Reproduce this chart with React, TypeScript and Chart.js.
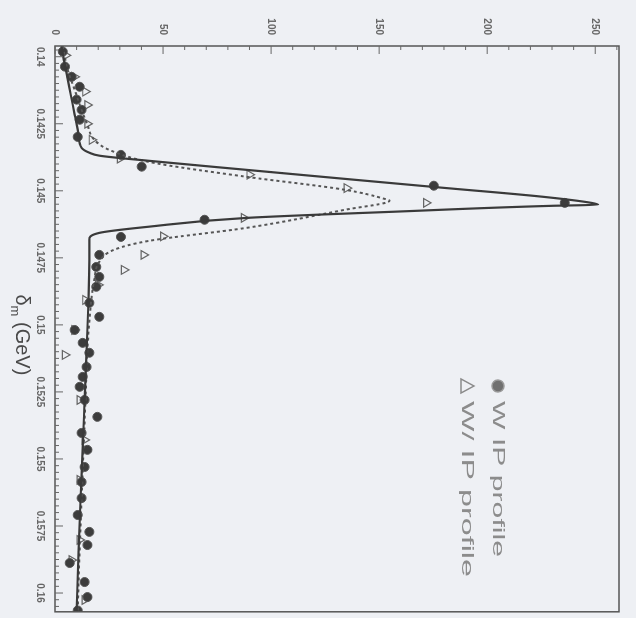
import React, { useEffect, useRef } from "react";
import { Chart, registerables } from "chart.js";

Chart.register(...registerables);

// ---- axis ticks ----
const deltaTicks = [0.14, 0.1425, 0.145, 0.1475, 0.15, 0.1525, 0.155, 0.1575, 0.16];
const deltaTickLabels = ["0.14", "0.1425", "0.145", "0.1475", "0.15", "0.1525", "0.155", "0.1575", "0.16"];
const countTicks = [0, 50, 100, 150, 200, 250];

// ---- data: without IP profile (filled circles) ----
const noIpDelta = [
  0.13981, 0.14037, 0.14075, 0.14112, 0.1416, 0.14198, 0.14235, 0.14299, 0.14366, 0.1441,
  0.14481, 0.14545, 0.14608, 0.14672, 0.14739, 0.14784, 0.14821, 0.14858, 0.14918, 0.1497,
  0.15019, 0.15067, 0.15104, 0.15157, 0.15194, 0.15231, 0.1528, 0.15343, 0.15403, 0.15466,
  0.1553, 0.15586, 0.15646, 0.15709, 0.15772, 0.15821, 0.15888, 0.15959, 0.16015, 0.16065,
];
const noIpCounts = [
  3.6, 4.6, 7.7, 11.4, 10.0, 12.3, 11.4, 10.5, 30.5, 40.1,
  175.3, 235.9, 69.2, 30.5, 20.5, 19.1, 20.5, 19.1, 15.9, 20.5,
  9.1, 12.8, 15.9, 14.6, 12.8, 11.4, 13.7, 19.6, 12.3, 15.0,
  13.7, 12.3, 12.3, 10.5, 15.9, 15.0, 6.8, 13.7, 15.0, 10.5,
];

// ---- data: with IP profile (open triangles) ----
const ipDelta = [
  0.13995, 0.14075, 0.1413, 0.1418, 0.1425, 0.1431, 0.1438, 0.1444, 0.1449, 0.14545,
  0.14601, 0.1467, 0.14739, 0.14795, 0.14851, 0.14907, 0.15019, 0.15112, 0.1528, 0.15429,
  0.15578, 0.15802, 0.15877, 0.16026,
];
const ipCounts = [
  5, 9, 14, 15, 15, 17, 30, 90, 135, 171.7,
  87.4, 50, 41, 31.9, 20, 14, 9, 4.6, 11.4, 13.7,
  11.4, 11.4, 7.7, 13.7,
];

// ---- fitted curves ----
const solidDelta = [
  0.1396, 0.14011, 0.14067, 0.14142, 0.14216, 0.14291, 0.1434, 0.14358, 0.14369, 0.14388,
  0.14422, 0.14459, 0.14489, 0.14522, 0.14545, 0.14552, 0.14556, 0.14578, 0.14601, 0.14634,
  0.14657, 0.14683, 0.14757, 0.14907, 0.15093, 0.1528, 0.15466, 0.15653, 0.1584, 0.1607,
];
const solidCounts = [
  3.0, 4.1, 5.5, 7.3, 9.1, 10.9, 12.3, 15.9, 20.5, 43.3,
  88.8, 138.9, 179.9, 225.4, 248.2, 251.4, 230, 157, 88.8, 43.3,
  20.5, 15.9, 15.9, 15.5, 14.6, 13.7, 12.8, 11.8, 10.9, 10.0,
];
const dashedDelta = [
  0.1396, 0.14049, 0.14123, 0.14198, 0.14254, 0.1431, 0.14347, 0.14392, 0.14448, 0.14496,
  0.1453, 0.14537, 0.14571, 0.14638, 0.14687, 0.1472, 0.14765, 0.14832, 0.14907, 0.15093,
  0.1528, 0.15466, 0.15653, 0.1584, 0.1607,
];
const dashedCounts = [
  3.6, 5.9, 9.1, 12.3, 15.0, 18.2, 25, 43.3, 88.8, 134,
  152.5, 154.8, 134, 88.8, 43.3, 27.3, 20.5, 18.2, 16.8, 15.0,
  14.1, 13.2, 12.3, 11.4, 10.5,
];

const legendLabels = ["W IP profile", "W/ IP profile"];
const xTitleMain = "δ";
const xTitleSub = "m";
const xTitleUnit = " (GeV)";

const FONT = "'Liberation Sans', Arial, sans-serif";

const toXY = (xs: number[], ys: number[]) => xs.map((x, i) => ({ x, y: ys[i] }));

const bgPlugin = {
  id: "bg",
  beforeDraw(chart: any) {
    const { ctx, width, height } = chart;
    ctx.save();
    ctx.fillStyle = "#eef0f4";
    ctx.fillRect(0, 0, width, height);
    ctx.restore();
  },
};

const framePlugin = {
  id: "frame",
  afterDatasetsDraw(chart: any) {
    const { ctx, chartArea, scales } = chart;
    const { left, right, top, bottom } = chartArea;
    const xs = scales.x;
    const ys = scales.y;
    ctx.save();
    ctx.strokeStyle = "#555";
    ctx.lineWidth = 1.5;
    ctx.strokeRect(left, top, right - left, bottom - top);
    ctx.lineWidth = 1;
    ctx.strokeStyle = "#666";
    for (let i = -1; i <= 84; i++) {
      const v = 0.14 + i * 0.00025;
      const px = xs.getPixelForValue(v);
      if (px < left || px > right) continue;
      const len = i % 10 === 0 ? 8 : 4;
      ctx.beginPath();
      ctx.moveTo(px, bottom);
      ctx.lineTo(px, bottom - len);
      ctx.stroke();
    }
    for (let c = 0; c <= 260; c += 10) {
      const py = ys.getPixelForValue(c);
      if (py < top || py > bottom) continue;
      const len = c % 50 === 0 ? 8 : 4;
      ctx.beginPath();
      ctx.moveTo(left, py);
      ctx.lineTo(left + len, py);
      ctx.stroke();
    }
    ctx.restore();
  },
};

const titlePlugin = {
  id: "xtitle",
  afterDraw(chart: any) {
    const { ctx, chartArea } = chart;
    ctx.save();
    ctx.fillStyle = "#4a4a4a";
    ctx.textBaseline = "middle";
    ctx.textAlign = "left";
    const big = `20px ${FONT}`;
    const small = `13px ${FONT}`;
    ctx.font = big;
    const w1 = ctx.measureText(xTitleMain).width;
    const w3 = ctx.measureText(xTitleUnit).width;
    ctx.font = small;
    const w2 = ctx.measureText(xTitleSub).width;
    const total = w1 + w2 + w3;
    const cx = (chartArea.left + chartArea.right) / 2 + 6;
    const cy = 614;
    let x = cx - total / 2;
    ctx.font = big;
    ctx.fillText(xTitleMain, x, cy);
    x += w1;
    ctx.font = small;
    ctx.fillText(xTitleSub, x, cy + 7);
    x += w2;
    ctx.font = big;
    ctx.fillText(xTitleUnit, x, cy);
    ctx.restore();
  },
};

const legendPlugin = {
  id: "customLegend",
  afterDraw(chart: any) {
    const { ctx } = chart;
    ctx.save();
    const rows = [
      { y: 138, end: 557 },
      { y: 169, end: 577 },
    ];
    rows.forEach((r, i) => {
      // marker
      if (i === 0) {
        ctx.beginPath();
        ctx.arc(386, r.y, 6, 0, Math.PI * 2);
        ctx.fillStyle = "#707070";
        ctx.fill();
        ctx.strokeStyle = "#999";
        ctx.lineWidth = 1.5;
        ctx.stroke();
      } else {
        ctx.beginPath();
        ctx.moveTo(386, r.y - 7);
        ctx.lineTo(393, r.y + 6);
        ctx.lineTo(379, r.y + 6);
        ctx.closePath();
        ctx.strokeStyle = "#8a8a8a";
        ctx.lineWidth = 1.5;
        ctx.stroke();
      }
      ctx.font = `17px ${FONT}`;
      ctx.fillStyle = "#8c8c8c";
      ctx.textBaseline = "middle";
      ctx.textAlign = "left";
      const text = legendLabels[i];
      const w = ctx.measureText(text).width;
      const start = 401;
      const sx = (r.end - start) / w;
      ctx.save();
      ctx.translate(start, r.y);
      ctx.scale(sx, 1);
      ctx.fillText(text, 0, 0);
      ctx.restore();
    });
    ctx.restore();
  },
};

export default function App() {
  const canvasRef = useRef<HTMLCanvasElement | null>(null);

  useEffect(() => {
    if (!canvasRef.current) return;
    const chart = new Chart(canvasRef.current, {
      type: "scatter",
      data: {
        datasets: [
          {
            label: "fit w/o IP",
            data: toXY(solidDelta, solidCounts),
            showLine: true,
            borderColor: "#3a3a3a",
            borderWidth: 2.2,
            pointRadius: 0,
            cubicInterpolationMode: "monotone",
          } as any,
          {
            label: "fit w/ IP",
            data: toXY(dashedDelta, dashedCounts),
            showLine: true,
            borderColor: "#555",
            borderWidth: 2,
            borderDash: [3, 3],
            pointRadius: 0,
            cubicInterpolationMode: "monotone",
          } as any,
          {
            label: legendLabels[0],
            data: toXY(noIpDelta, noIpCounts),
            pointStyle: "circle",
            pointRadius: 4.5,
            backgroundColor: "#3c3c3c",
            borderColor: "#555",
            borderWidth: 1,
          },
          {
            label: legendLabels[1],
            data: toXY(ipDelta, ipCounts),
            pointStyle: "triangle",
            pointRadius: 5,
            backgroundColor: "rgba(0,0,0,0)",
            borderColor: "#666",
            borderWidth: 1.2,
          },
        ],
      },
      options: {
        animation: false,
        responsive: false,
        devicePixelRatio: 1,
        layout: { padding: { top: 7, right: 6, left: 0, bottom: 0 } },
        plugins: {
          legend: { display: false },
          tooltip: { enabled: false },
          title: { display: false },
        },
        scales: {
          x: {
            type: "linear",
            min: 0.1396,
            max: 0.1607,
            afterBuildTicks: (s: any) => {
              s.ticks = deltaTicks.map((v) => ({ value: v }));
            },
            afterFit: (s: any) => {
              s.height = 55;
            },
            ticks: {
              autoSkip: false,
              maxRotation: 0,
              minRotation: 0,
              padding: 9,
              color: "#666",
              font: { size: 10, weight: "bold", family: FONT },
              callback: (v: any) => {
                const i = deltaTicks.findIndex((t) => Math.abs(t - Number(v)) < 1e-9);
                return i >= 0 ? deltaTickLabels[i] : "";
              },
            },
            grid: { display: false, drawTicks: false },
            border: { display: false },
          },
          y: {
            type: "linear",
            min: 0,
            max: 261,
            afterBuildTicks: (s: any) => {
              s.ticks = countTicks.map((v) => ({ value: v }));
            },
            afterFit: (s: any) => {
              s.width = 46;
            },
            ticks: {
              padding: 11,
              color: "#666",
              font: { size: 10, weight: "bold", family: FONT },
            },
            grid: { display: false, drawTicks: false },
            border: { display: false },
          },
        },
      },
      plugins: [bgPlugin, framePlugin, titlePlugin, legendPlugin],
    });
    return () => chart.destroy();
  }, []);

  return (
    <div
      style={{
        position: "fixed",
        left: 0,
        top: 0,
        width: 636,
        height: 618,
        overflow: "hidden",
        background: "#eef0f4",
      }}
    >
      <div
        style={{
          position: "absolute",
          left: 0,
          top: 0,
          width: 618,
          height: 636,
          transformOrigin: "0 0",
          transform: "translate(636px, 0) rotate(90deg)",
        }}
      >
        <canvas ref={canvasRef} width={618} height={636} style={{ display: "block" }} />
      </div>
    </div>
  );
}
